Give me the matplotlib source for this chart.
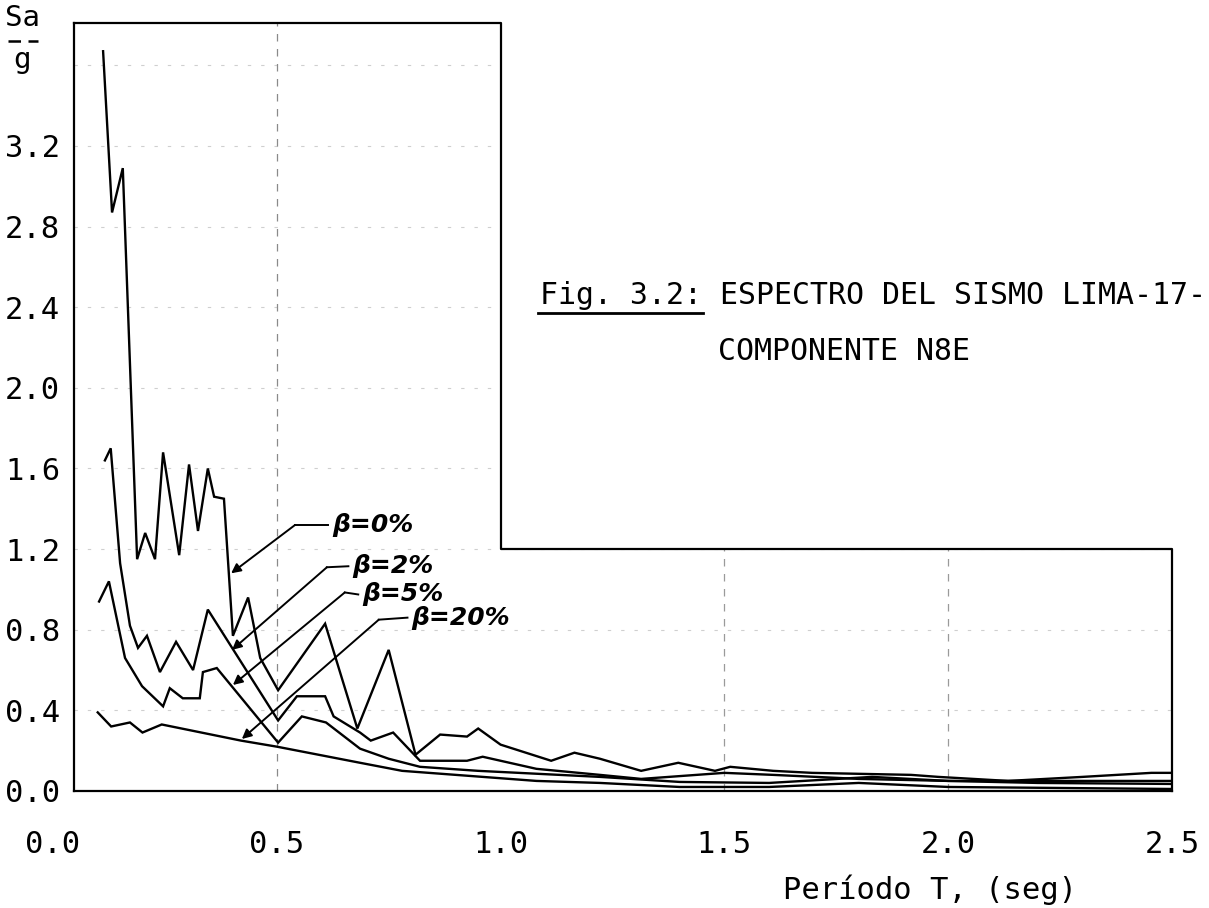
import matplotlib
matplotlib.use("Agg")
import matplotlib.pyplot as plt
from matplotlib.lines import Line2D

# ── Data ─────────────────────────────────────────────────────────────────────
t_b0 = [0.112, 0.132, 0.156, 0.188, 0.206, 0.228, 0.246, 0.282, 0.304, 0.324,
        0.346, 0.360, 0.382, 0.402, 0.436, 0.463, 0.503, 0.608, 0.680, 0.750,
        0.810, 0.865, 0.925, 0.950, 1.000, 1.113, 1.165, 1.222, 1.314, 1.397,
        1.479, 1.513, 1.609, 1.696, 1.917, 1.978, 2.134, 2.300, 2.454, 2.500]
sa_b0 = [3.67, 2.87, 3.09, 1.15, 1.28, 1.15, 1.68, 1.17, 1.62, 1.29,
         1.60, 1.46, 1.45, 0.77, 0.96, 0.66, 0.50, 0.83, 0.31, 0.70,
         0.18, 0.28, 0.27, 0.31, 0.23, 0.15, 0.19, 0.16, 0.10, 0.14,
         0.10, 0.12, 0.10, 0.09, 0.08, 0.07, 0.05, 0.07, 0.09, 0.09]

t_b2 = [0.116, 0.129, 0.150, 0.172, 0.190, 0.210, 0.239, 0.275, 0.313, 0.346,
        0.503, 0.545, 0.608, 0.627, 0.686, 0.710, 0.760, 0.820, 0.925, 0.960,
        1.080, 1.222, 1.314, 1.500, 1.609, 1.800, 2.000, 2.134, 2.500]
sa_b2 = [1.64, 1.70, 1.13, 0.82, 0.71, 0.77, 0.59, 0.74, 0.60, 0.90,
         0.35, 0.47, 0.47, 0.37, 0.29, 0.25, 0.29, 0.15, 0.15, 0.17,
         0.11, 0.08, 0.06, 0.09, 0.08, 0.06, 0.05, 0.05, 0.05]

t_b5 = [0.103, 0.125, 0.161, 0.199, 0.246, 0.261, 0.290, 0.328, 0.335, 0.366,
        0.503, 0.556, 0.610, 0.686, 0.750, 0.820, 0.950, 1.222, 1.400, 1.600,
        1.830, 2.000, 2.200, 2.500]
sa_b5 = [0.94, 1.04, 0.66, 0.52, 0.42, 0.51, 0.46, 0.46, 0.59, 0.61,
         0.24, 0.37, 0.34, 0.21, 0.16, 0.12, 0.10, 0.07, 0.045, 0.04,
         0.07, 0.05, 0.04, 0.035]

t_b20 = [0.100, 0.130, 0.172, 0.200, 0.243, 0.420, 0.500, 0.686, 0.780, 1.080,
         1.222, 1.400, 1.600, 1.800, 2.000, 2.500]
sa_b20 = [0.39, 0.32, 0.34, 0.29, 0.33, 0.25, 0.22, 0.14, 0.10, 0.05,
          0.04, 0.02, 0.02, 0.04, 0.02, 0.01]

x_ticks = [0.0, 0.5, 1.0, 1.5, 2.0, 2.5]
y_ticks = [0.0, 0.4, 0.8, 1.2, 1.6, 2.0, 2.4, 2.8, 3.2]
y_grid = [0.4, 0.8, 1.2, 1.6, 2.0, 2.4, 2.8, 3.2, 3.6]

# curve labels: text, tip on curve, knee of leader, text anchor
labels = [
    ("β=0%",  (0.398, 1.08), (0.541, 1.32), (0.623, 1.32)),
    ("β=2%",  (0.400, 0.70), (0.612, 1.11), (0.668, 1.115)),
    ("β=5%",  (0.402, 0.526), (0.652, 0.985), (0.690, 0.975)),
    ("β=20%", (0.422, 0.258), (0.728, 0.85), (0.800, 0.86)),
]

# frame limits of the original plotting sheet
T_MIN, T_MAX = 0.047, 2.5
SA_TOP, SA_STEP, T_STEP = 3.81, 1.2, 1.0

MONO = "DejaVu Sans Mono"
W, H = 1209, 908

fig = plt.figure(figsize=(W / 100, H / 100), dpi=100)
fig.patch.set_facecolor("white")
ax = fig.add_axes([74 / W, 1 - 791 / H, (1172 - 74) / W, (791 - 23) / H])
for s in ("top", "right"):
    ax.spines[s].set_visible(False)
for s in ("left", "bottom"):
    ax.spines[s].set_linewidth(1.6)

# faint grid of the printed paper
for v in y_grid:
    xmax = T_STEP if v > SA_STEP else T_MAX
    ax.plot([T_MIN, xmax], [v, v], color="#cfcfcf", lw=0.8,
            dashes=(3, 9), zorder=1)
ax.plot([0.5, 0.5], [0, SA_TOP], color="#8a8a8a", lw=0.9, dashes=(6, 6), zorder=1)
for t in (1.5, 2.0):
    ax.plot([t, t], [0, SA_STEP], color="#9a9a9a", lw=0.9, dashes=(6, 6), zorder=1)

# stepped frame (top + right)
ax.plot([T_MIN, T_STEP, T_STEP, T_MAX, T_MAX],
        [SA_TOP, SA_TOP, SA_STEP, SA_STEP, 0],
        color="black", lw=1.6, clip_on=False, zorder=3)

for t, sa in ((t_b0, sa_b0), (t_b2, sa_b2), (t_b5, sa_b5), (t_b20, sa_b20)):
    ax.plot(t, sa, color="black", lw=1.7, solid_joinstyle="miter", zorder=4)

for txt, tip, knee, anchor in labels:
    ax.plot([knee[0], anchor[0] - 0.008], [knee[1], anchor[1]],
            color="black", lw=1.4, zorder=5)
    ax.annotate("", xy=tip, xytext=knee,
                arrowprops=dict(arrowstyle="-|>", color="black", lw=1.4,
                                mutation_scale=14, shrinkA=0, shrinkB=0),
                zorder=5)
    ax.text(anchor[0], anchor[1], txt, fontsize=18, style="italic",
            fontweight="bold", ha="left", va="center", zorder=5)

ax.set_xticks(x_ticks)
ax.set_xticklabels([f"{v:.1f}" for v in x_ticks], family=MONO, fontsize=22)
ax.set_yticks(y_ticks)
ax.set_yticklabels([f"{v:.1f}" for v in y_ticks], family=MONO, fontsize=22)
ax.tick_params(axis="x", length=0, pad=28)
ax.tick_params(axis="y", length=0, pad=10)
# limits after the ticks, so the 0.0 tick does not widen the view
ax.set_xlim(T_MIN, T_MAX)
ax.set_ylim(0, SA_TOP)
# 0.0 sits left of the drawn axis, so it is placed by hand
ax.annotate(f"{x_ticks[0]:.1f}", xy=(x_ticks[0], 0), xycoords="data",
            xytext=(0, -28), textcoords="offset points", ha="center", va="top",
            family=MONO, fontsize=22, annotation_clip=False)

# axis titles
fig.text(22 / W, 1 - 18 / H, "Sa", family=MONO, fontsize=21, ha="center", va="center")
fig.add_artist(Line2D([8 / W, 38 / W], [1 - 41 / H, 1 - 41 / H],
                      color="black", lw=1.8, dashes=(5, 3)))
fig.text(22 / W, 1 - 60 / H, "g", family=MONO, fontsize=21, ha="center", va="center")
fig.text(930 / W, 1 - 890 / H, "Período T, (seg)", family=MONO, fontsize=22,
         ha="center", va="center")

# figure caption
fig.text(540 / W, 1 - 296 / H, "Fig. 3.2: ESPECTRO DEL SISMO LIMA-17-",
         family=MONO, fontsize=21.5, ha="left", va="center")
fig.add_artist(Line2D([538 / W, 703 / W], [1 - 313 / H, 1 - 313 / H],
                      color="black", lw=2.0))
fig.text(718 / W, 1 - 352 / H, "COMPONENTE N8E",
         family=MONO, fontsize=21.5, ha="left", va="center")

fig.savefig("out.png", dpi=100, facecolor="white")
